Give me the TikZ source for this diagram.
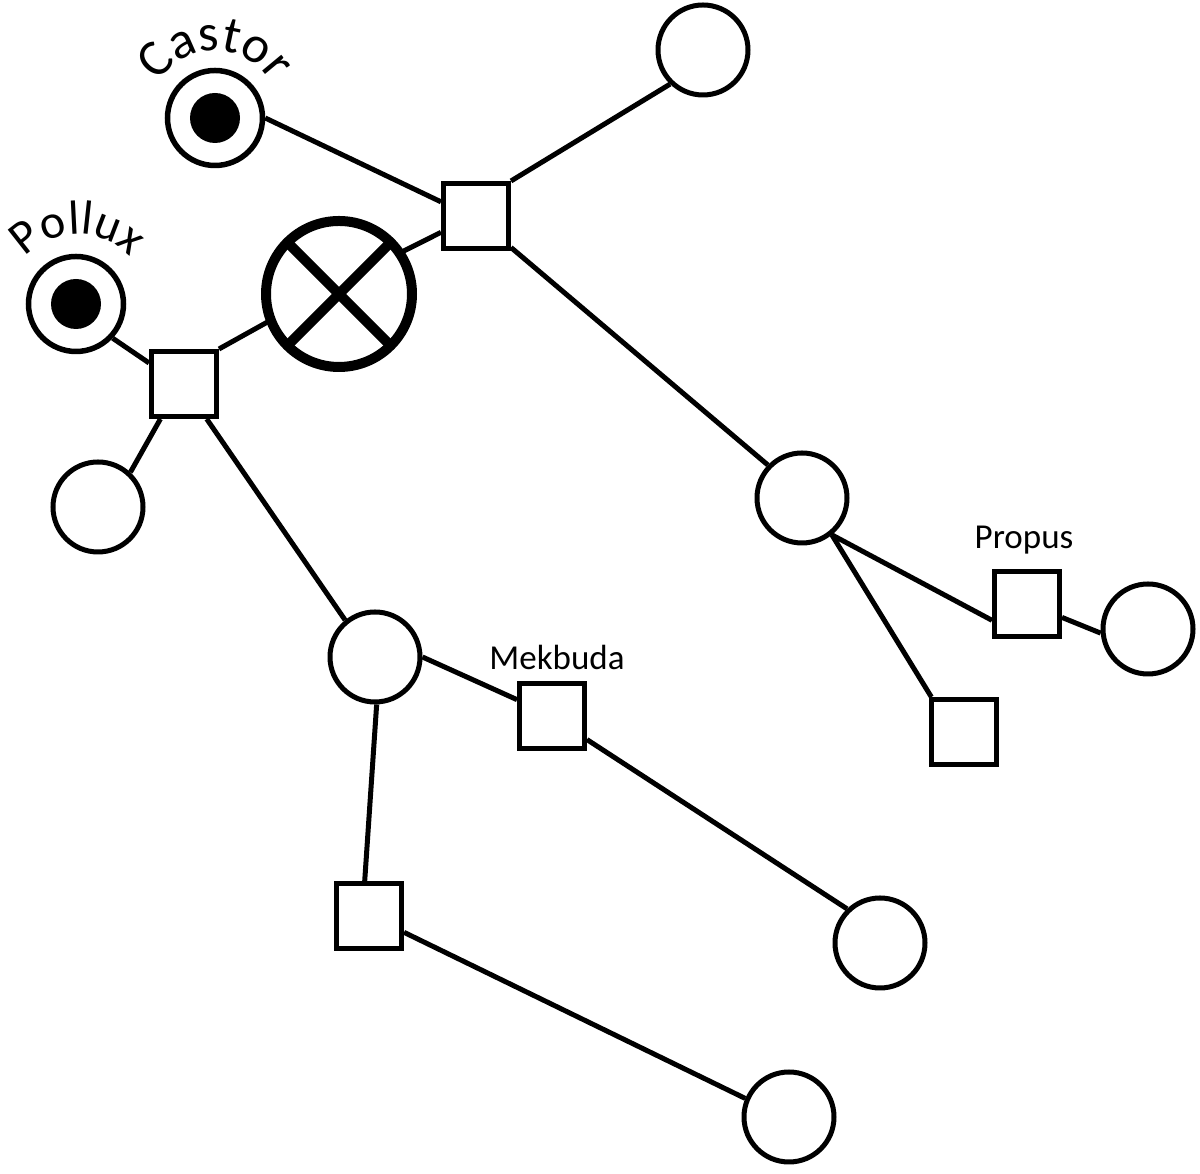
\documentclass[tikz,border=0pt]{standalone}
\usepackage{fontspec}
\setmainfont{Carlito}
\usetikzlibrary{decorations.text}
\begin{document}
\begin{tikzpicture}[x=1pt,y=1pt,
  edge/.style={line width=5pt},
  circ/.style={circle,draw,line width=5pt,minimum size=90pt,inner sep=0pt},
  sq/.style={rectangle,draw,line width=5pt,minimum size=65pt,inner sep=0pt},
  ring/.style={circle,draw,line width=5.5pt,minimum size=95pt,inner sep=0pt},
  dot/.style={circle,fill=black,minimum size=50pt,inner sep=0pt},
  lbl/.style={font=\fontsize{35}{40}\selectfont},
  arctext/.style 2 args={decorate,decoration={text along path,text align=center,
     text={|\fontsize{#2}{#2}\selectfont|#1}}}]
\useasboundingbox (0,0) rectangle (1200,1174);
% nodes
\node[ring] (castor) at (215,1056) {};
\node[dot] (castordot) at (215,1056) {};
\node[ring] (pollux) at (76,870) {};
\node[dot] (polluxdot) at (76,870) {};
\node[sq] (ts) at (476,958) {};
\node[circ] (trc) at (703,1124) {};
\node[circle,draw,line width=10pt,minimum size=146pt,inner sep=0pt,outer sep=0pt] (xc) at (339,880) {};
\node[sq] (ls) at (184,790) {};
\node[circ] (llc) at (98,667) {};
\node[circ] (mr) at (802,676) {};
\node[circ] (cm) at (375,517) {};
\node[sq] (ms) at (552,458) {};
\node[sq] (ps) at (1027,570) {};
\node[circ] (rc) at (1148,545) {};
\node[sq] (sqb) at (964,442) {};
\node[sq] (lsq) at (369,258) {};
\node[circ] (c880) at (880,231) {};
\node[circ] (bc) at (789,57) {};
% labels
\node[lbl] (mek) at (557,517) {Mekbuda};
\node[lbl] (pro) at (1024,634) {Propus};
\path[arctext={Castor}{52}] (215,1056) ++(150:67) arc[start angle=150,end angle=30,radius=67];
\path[arctext={Pollux}{48}] (78,870) ++(150:70) arc[start angle=150,end angle=30,radius=70];
% cross
\draw[line width=10pt] (xc.45) -- (xc.225);
\draw[line width=10pt] (xc.135) -- (xc.315);
% edges
\draw[edge] (castor.east) -- (ts.158);
\draw[edge] (ts.north east) -- (trc.226);
\draw[edge] (ts.205) -- (xc.34);
\draw[edge] (xc.201) -- (ls.north east);
\draw[edge] (pollux.-43) -- (ls.149);
\draw[edge] (ls.236) -- (llc.47);
\draw[edge] (ls.-57) -- (cm.129);
\draw[edge] (ts.-42) -- (mr.136);
\draw[edge] (mr.-51) -- (ps.205);
\draw[edge] (mr.-51) -- (sqb.133);
\draw[edge] (ps.-21) -- (rc.185);
\draw[edge] (cm.east) -- (ms.155);
\draw[edge] (cm.-88) -- (lsq.97);
\draw[edge] (ms.-34) -- (c880.134);
\draw[edge] (lsq.-25) -- (bc.157);
\end{tikzpicture}
\end{document}
